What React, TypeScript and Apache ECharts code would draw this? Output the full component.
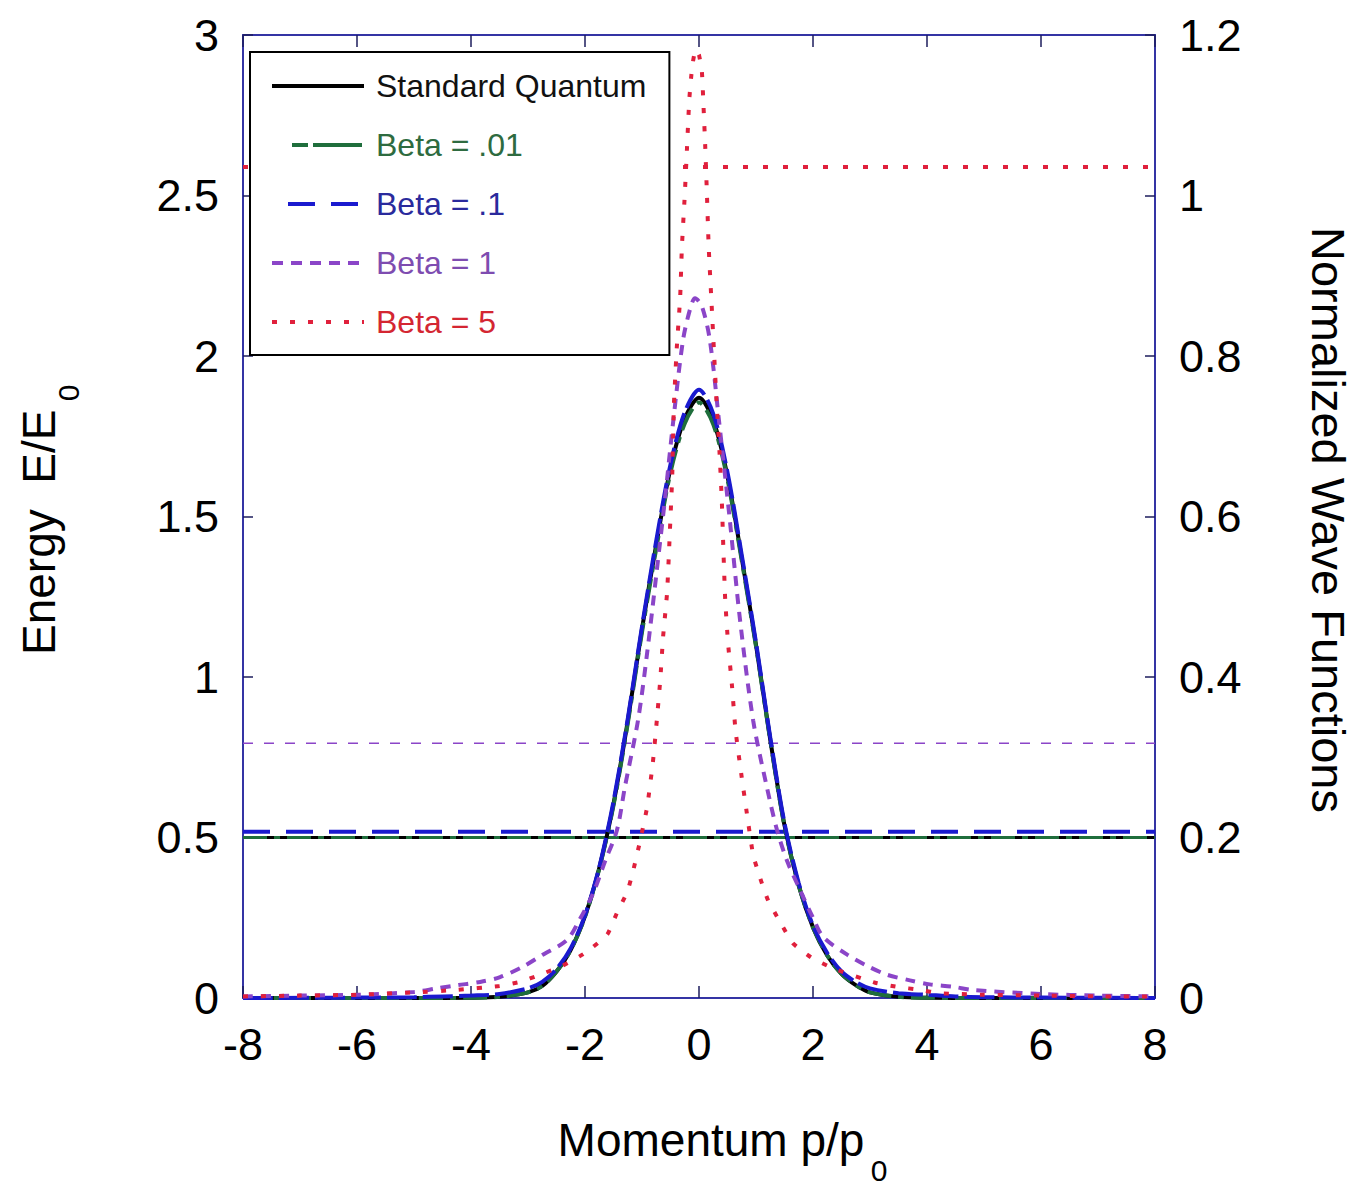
import React, { useEffect, useRef } from 'react';
import * as echarts from 'echarts';

// ---------- data ----------
const SERIES_NAMES = ['Standard Quantum', 'Beta = .01', 'Beta = .1', 'Beta = 1', 'Beta = 5'];
const ENERGY_LEVELS = [0.5, 0.5, 0.518, 0.794, 2.589];
const X_MIN = -8;
const X_MAX = 8;

// Standard quantum / Beta = .01 share a grid
const P_STD = [-8, -6, -5, -4, -3.5, -3, -2.75, -2.5, -2.25, -2, -1.75, -1.5, -1.25, -1, -0.75, -0.5, -0.25, 0,
  0.25, 0.5, 0.75, 1, 1.25, 1.5, 1.75, 2, 2.25, 2.5, 2.75, 3, 3.5, 4, 5, 6, 8];
const V_STD = [0, 0, 0, 0.0003, 0.0015, 0.007, 0.015, 0.033, 0.06, 0.102, 0.162, 0.242, 0.345, 0.46, 0.565, 0.66, 0.722, 0.748,
  0.72, 0.65, 0.548, 0.44, 0.322, 0.215, 0.14, 0.088, 0.053, 0.03, 0.016, 0.007, 0.0015, 0.0003, 0, 0, 0];
const V_B001 = [0, 0, 0, 0.0003, 0.0015, 0.007, 0.015, 0.033, 0.06, 0.101, 0.161, 0.24, 0.342, 0.456, 0.56, 0.655, 0.716, 0.742,
  0.715, 0.646, 0.545, 0.438, 0.321, 0.214, 0.14, 0.088, 0.053, 0.03, 0.016, 0.007, 0.0015, 0.0003, 0, 0, 0];

const P_B01 = [-8, -6, -5, -4.5, -4, -3.5, -3, -2.75, -2.5, -2.25, -2, -1.75, -1.5, -1.25, -1, -0.75, -0.5, -0.25, 0,
  0.25, 0.5, 0.75, 1, 1.25, 1.5, 1.75, 2, 2.25, 2.5, 2.75, 3, 3.5, 4, 4.5, 5, 6, 8];
const V_B01 = [0, 0.0005, 0.001, 0.002, 0.003, 0.005, 0.012, 0.02, 0.036, 0.062, 0.103, 0.163, 0.245, 0.348, 0.463, 0.57, 0.665, 0.73, 0.758,
  0.728, 0.655, 0.552, 0.443, 0.325, 0.218, 0.143, 0.09, 0.056, 0.033, 0.02, 0.012, 0.006, 0.004, 0.002, 0.001, 0.0005, 0];

const P_B1 = [-8, -7, -6, -5, -4.6, -4.23, -3.84, -3.49, -3.09, -2.74, -2.32, -2.1, -1.86, -1.65, -1.44, -1.3, -1.07, -0.91, -0.74,
  -0.6, -0.45, -0.28, -0.15, -0.07, 0.05, 0.19, 0.35, 0.54, 0.72, 0.95, 1.19, 1.37, 1.55, 1.77, 2.0, 2.18, 2.6, 2.95, 3.3, 3.7,
  4.05, 4.46, 4.8, 6, 7, 8];
const V_B1 = [0.002, 0.003, 0.004, 0.0075, 0.012, 0.016, 0.02, 0.026, 0.039, 0.054, 0.072, 0.097, 0.13, 0.17, 0.209, 0.263, 0.346, 0.43, 0.533,
  0.62, 0.72, 0.82, 0.86, 0.872, 0.862, 0.82, 0.72, 0.596, 0.471, 0.346, 0.263, 0.209, 0.17, 0.135, 0.1, 0.076, 0.054, 0.04, 0.029, 0.022,
  0.017, 0.014, 0.01, 0.005, 0.003, 0.002];

const P_B5 = [-8, -7, -6, -5, -4.26, -3.5, -3.14, -2.79, -2.4, -2.0, -1.61, -1.44, -1.26, -1.16, -1.02, -0.91, -0.81, -0.74, -0.68,
  -0.63, -0.56, -0.51, -0.47, -0.44, -0.39, -0.33, -0.3, -0.25, -0.21, -0.17, -0.12, -0.06, 0.0, 0.05, 0.08, 0.11, 0.14, 0.17,
  0.22, 0.26, 0.31, 0.36, 0.4, 0.43, 0.46, 0.51, 0.58, 0.64, 0.74, 0.84, 0.95, 1.07, 1.21, 1.42, 1.65, 1.98, 2.35, 3.09, 3.47,
  3.88, 4.23, 5, 6, 7, 8];
const V_B5 = [0.002, 0.003, 0.004, 0.007, 0.01, 0.015, 0.02, 0.029, 0.04, 0.056, 0.079, 0.106, 0.132, 0.157, 0.2, 0.238, 0.293, 0.346, 0.396,
  0.45, 0.505, 0.583, 0.65, 0.74, 0.81, 0.874, 0.936, 1.0, 1.06, 1.12, 1.16, 1.182, 1.175, 1.155, 1.11, 1.06, 1.0, 0.936,
  0.866, 0.81, 0.74, 0.68, 0.62, 0.554, 0.496, 0.442, 0.388, 0.334, 0.28, 0.23, 0.178, 0.15, 0.122, 0.095, 0.068, 0.05, 0.037, 0.019, 0.014,
  0.01, 0.006, 0.004, 0.003, 0.002, 0.002];

const CURVE_P = [P_STD, P_STD, P_B01, P_B1, P_B5];
const CURVE_V = [V_STD, V_B001, V_B01, V_B1, V_B5];

// ---------- styles ----------
const FONT = '"Liberation Sans", Arial, Helvetica, sans-serif';
const LINE_COLORS = ['#000000', '#1f6e3c', '#1a1acf', '#8b45c8', '#e0203c'];
const TEXT_COLORS = ['#111111', '#2e6b40', '#2a2a9c', '#7e4cb0', '#d42632'];
const CURVE_DASH: any[] = ['solid', [24, 7, 6, 7], [30, 6], [10, 8], [5, 13]];
const ENERGY_DASH: any[] = ['solid', [24, 7, 6, 7], [27, 16], [10, 11], [5, 15]];
const ENERGY_WIDTH = [3, 3, 4, 1.5, 4];
const CURVE_SMOOTH = [0.3, 0.3, 0.3, 0.3, 0.15];
const LEGEND_LINE: any[] = [
  {},
  { type: [16, 5, 49, 20], dashOffset: 70 },
  { type: [27, 16], dashOffset: 27 },
  { type: [11, 8] },
  { type: [5, 13] },
];
const FRAME = '#3434a4';
const TICK = '#1c1c5c';

function buildOption() {
  const energySeries = SERIES_NAMES.map((name, i) => ({
    name,
    type: 'line',
    xAxisIndex: 0,
    yAxisIndex: 0,
    symbol: 'none',
    silent: true,
    data: [[X_MIN, ENERGY_LEVELS[i]], [X_MAX, ENERGY_LEVELS[i]]],
    lineStyle: { color: LINE_COLORS[i], width: ENERGY_WIDTH[i], type: ENERGY_DASH[i], cap: 'butt' },
    itemStyle: { color: LINE_COLORS[i] },
    z: 2,
  }));
  const curveSeries = SERIES_NAMES.map((name, i) => ({
    name,
    type: 'line',
    xAxisIndex: 0,
    yAxisIndex: 1,
    symbol: 'none',
    silent: true,
    smooth: CURVE_SMOOTH[i],
    data: CURVE_P[i].map((p, k) => [p, CURVE_V[i][k]]),
    lineStyle: { color: LINE_COLORS[i], width: 4, type: CURVE_DASH[i], cap: 'butt' },
    itemStyle: { color: LINE_COLORS[i] },
    z: 3,
  }));

  const axisLabel = { fontSize: 45, color: '#000', fontFamily: FONT, margin: 24 };
  const tick = (len: number) => ({ show: true, inside: true, length: len, lineStyle: { color: TICK, width: 1.5 } });
  const noLine = { show: false, onZero: false };

  return {
    animation: false,
    backgroundColor: '#ffffff',
    grid: {
      left: 243, right: 210, top: 35, bottom: 189,
      show: true, borderColor: FRAME, borderWidth: 2, backgroundColor: 'transparent',
    },
    xAxis: [
      {
        type: 'value', position: 'bottom', min: X_MIN, max: X_MAX, interval: 2,
        axisLine: noLine, axisTick: tick(12), splitLine: { show: false },
        axisLabel: { ...axisLabel, showMinLabel: true, showMaxLabel: true },
      },
      {
        type: 'value', position: 'top', min: X_MIN, max: X_MAX, interval: 2,
        axisLine: noLine, axisTick: tick(12), splitLine: { show: false },
        axisLabel: { show: false },
      },
    ],
    yAxis: [
      {
        type: 'value', position: 'left', min: 0, max: 3, interval: 0.5,
        axisLine: noLine, axisTick: tick(10), splitLine: { show: false },
        axisLabel: { ...axisLabel, showMinLabel: true, showMaxLabel: true },
      },
      {
        type: 'value', position: 'right', min: 0, max: 1.2, interval: 0.2,
        axisLine: noLine, axisTick: tick(10), splitLine: { show: false },
        axisLabel: { ...axisLabel, showMinLabel: true, showMaxLabel: true },
      },
    ],
    legend: {
      orient: 'vertical',
      left: 250,
      top: 52,
      selectedMode: false,
      backgroundColor: '#ffffff',
      borderColor: '#000000',
      borderWidth: 2,
      borderRadius: 0,
      padding: [18, 23, 17, 20],
      itemWidth: 92,
      itemHeight: 24,
      itemGap: 27,
      itemStyle: { opacity: 0, borderWidth: 0 },
      lineStyle: { width: 4 },
      textStyle: { fontSize: 32, fontFamily: FONT, lineHeight: 32, padding: [0, 0, 0, 7] },
      data: SERIES_NAMES.map((name, i) => ({
        name,
        textStyle: { color: TEXT_COLORS[i] },
        lineStyle: LEGEND_LINE[i],
      })),
      z: 10,
    },
    graphic: [
      {
        type: 'text', x: 711, y: 1140, silent: true,
        style: { text: 'Momentum p/p', fontSize: 46, fontFamily: FONT, fill: '#000', align: 'center', verticalAlign: 'middle' },
      },
      {
        type: 'text', x: 879, y: 1170, silent: true,
        style: { text: '0', fontSize: 30, fontFamily: FONT, fill: '#000', align: 'center', verticalAlign: 'middle' },
      },
      {
        type: 'group', x: 39, y: 655, rotation: Math.PI / 2, silent: true,
        children: [
          {
            type: 'text', x: 0, y: 0,
            style: { text: 'Energy  E/E', fontSize: 46, fontFamily: FONT, fill: '#000', align: 'left', verticalAlign: 'middle' },
          },
          {
            type: 'text', x: 262, y: 29,
            style: { text: '0', fontSize: 30, fontFamily: FONT, fill: '#000', align: 'center', verticalAlign: 'middle' },
          },
        ],
      },
      {
        type: 'text', x: 1328, y: 520, rotation: -Math.PI / 2, silent: true,
        style: { text: 'Normalized Wave Functions', fontSize: 47, fontFamily: FONT, fill: '#000', align: 'center', verticalAlign: 'middle' },
      },
    ],
    series: [...energySeries, ...curveSeries],
  };
}

export default function App() {
  const ref = useRef<HTMLDivElement>(null);
  useEffect(() => {
    if (!ref.current) return;
    const chart = echarts.init(ref.current, undefined, { renderer: 'svg' });
    chart.setOption(buildOption() as any);
    return () => chart.dispose();
  }, []);
  return (
    <div
      ref={ref}
      style={{ position: 'fixed', left: 0, top: 0, width: 1365, height: 1187, background: '#fff' }}
    />
  );
}
